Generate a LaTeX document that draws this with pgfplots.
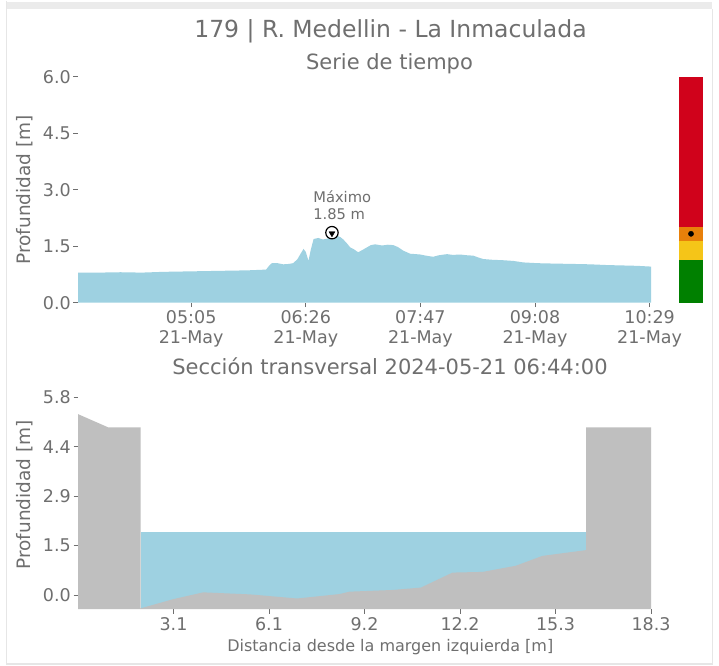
\documentclass[border=0pt]{standalone}
\usepackage{fontspec}
\setmainfont{DejaVu Sans}
\usepackage{pgfplots}
\pgfplotsset{compat=1.18}
\definecolor{water}{HTML}{9ED1E1}
\definecolor{terrain}{HTML}{BFBFBF}
\definecolor{txt}{HTML}{6F6F6F}
\definecolor{rd}{HTML}{D0021B}
\definecolor{org}{HTML}{E8800A}
\definecolor{yel}{HTML}{F5C518}
\definecolor{grn}{HTML}{008000}
\definecolor{band}{HTML}{EBEBEB}
\definecolor{border}{HTML}{E6E6E6}
\pgfplotsset{
  base/.style={scale only axis, enlargelimits=false, axis lines=left,
    axis line style={draw=none,-}, tick style={txt, line width=0.8pt},
    tick align=outside, major tick length=4.5pt,
    ticklabel style={font=\fontsize{17.5}{20}\selectfont, text=txt},
    yticklabel style={inner sep=2.5pt},
    label style={text=txt}}
}
\begin{document}
\begin{tikzpicture}
\fill[white] (0pt,0pt) rectangle (719pt,665pt);
\fill[band] (7pt,657pt) rectangle (712pt,664pt);
\draw[border, line width=1.5pt] (6.5pt,665pt) -- (6.5pt,2pt) -- (712.5pt,2pt) -- (712.5pt,657pt);
\node[text=txt, font=\fontsize{23.5}{26}\selectfont, anchor=base] at (390.5pt,628pt) {179 | R. Medellin - La Inmaculada};
\node[text=txt, font=\fontsize{21}{24}\selectfont, anchor=base] at (389.5pt,596pt) {Serie de tiempo};
\node[text=txt, font=\fontsize{21}{24}\selectfont, anchor=base] at (390pt,291pt) {Sección transversal 2024-05-21 06:44:00};

% time series
\begin{axis}[base, at={(78pt,363pt)}, anchor=south west, width=573pt, height=226pt,
  xmin=225, xmax=630, ymin=0, ymax=6,
  xtick={305,386,467,548,629},
  xticklabels={{05:05\\21-May},{06:26\\21-May},{07:47\\21-May},{09:08\\21-May},{10:29\\21-May}},
  xticklabel style={align=center},
  ytick={0,1.5,3,4.5,6}, yticklabels={0.0,1.5,3.0,4.5,6.0},
  ylabel={Profundidad [m]},
  ylabel style={font=\fontsize{18.5}{20}\selectfont, at={(axis description cs:-0.0925,0.5)}, anchor=center}]
\addplot[fill=water, draw=none] coordinates {
(225,0.80)(240,0.80)(255,0.81)(270,0.80)(285,0.82)(300,0.83)(315,0.84)(330,0.85)(345,0.86)(358,0.88)
(360,0.98)(362,1.05)(366,1.05)(370,1.02)(374,1.03)(377,1.05)(380,1.15)(382,1.28)(384.4,1.43)(386,1.35)
(387.9,1.11)(389.5,1.40)(391.5,1.69)(394.8,1.72)(398,1.68)(401.1,1.70)(404.5,1.75)(408,1.78)(410.5,1.74)
(412.5,1.68)(415,1.58)(417.4,1.47)(420,1.42)(423,1.34)(426,1.40)(429.2,1.47)(432,1.53)(435.1,1.55)
(440,1.52)(444,1.54)(447.8,1.53)(451,1.48)(455,1.38)(459.9,1.30)(464,1.29)(467,1.28)(471,1.25)(476,1.22)
(480,1.26)(485.8,1.29)(490,1.27)(495,1.28)(500,1.26)(504.4,1.25)(508,1.20)(511.5,1.16)(518,1.14)
(525,1.13)(532.7,1.11)(539.8,1.07)(550,1.05)(561,1.04)(575,1.03)(587,1.02)(599.2,1.00)(610,0.99)
(620,0.98)(630,0.96)} \closedcycle;
\addplot[only marks, mark=*, mark size=6.2pt, mark options={fill=white, draw=black, line width=1.2pt}] coordinates {(404.5,1.86)};
\addplot[only marks, mark=triangle*, mark size=3.4pt, mark options={fill=black, draw=black, rotate=180}] coordinates {(404.5,1.84)};
\node[anchor=south west, align=left, inner sep=0pt, text=txt, font=\fontsize{14.7}{17}\selectfont] at (axis cs:391.2,2.2) {Máximo\\1.85 m};
\end{axis}

% colour bar
\begin{axis}[at={(679pt,363pt)}, anchor=south west, scale only axis, width=24pt, height=226pt,
  xmin=0, xmax=1, ymin=0, ymax=6, hide axis]
\addplot[fill=grn, draw=none] coordinates {(0,0)(1,0)(1,1.14)(0,1.14)} -- cycle;
\addplot[fill=yel, draw=none] coordinates {(0,1.14)(1,1.14)(1,1.65)(0,1.65)} -- cycle;
\addplot[fill=org, draw=none] coordinates {(0,1.65)(1,1.65)(1,2.02)(0,2.02)} -- cycle;
\addplot[fill=rd, draw=none] coordinates {(0,2.02)(1,2.02)(1,6)(0,6)} -- cycle;
\addplot[only marks, mark=*, mark size=2.6pt, black] coordinates {(0.5,1.83)};
\end{axis}

% cross section
\begin{axis}[base, at={(78pt,56.7pt)}, anchor=south west, width=573pt, height=211.6pt,
  xmin=0, xmax=18.3, ymin=-0.41, ymax=5.8,
  xtick={3.05,6.1,9.15,12.2,15.25,18.3}, xticklabels={3.1,6.1,9.2,12.2,15.3,18.3},
  ytick={0,1.45,2.9,4.35,5.8}, yticklabels={0.0,1.5,2.9,4.4,5.8},
  ylabel={Profundidad [m]},
  ylabel style={font=\fontsize{18.5}{20}\selectfont, at={(axis description cs:-0.0925,0.54)}, anchor=center},
  xlabel={Distancia desde la margen izquierda [m]},
  xlabel style={font=\fontsize{16}{18}\selectfont, at={(axis description cs:0.545,-0.18)}, anchor=center}]
\addplot[fill=water, draw=none] coordinates {(2.0,-0.41)(16.23,-0.41)(16.23,1.84)(2.0,1.84)} -- cycle;
\addplot[fill=terrain, draw=none] coordinates {
(0,-0.41)(0,5.31)(0.97,4.92)(2.0,4.92)(2.0,-0.39)(3.04,-0.12)(4.0,0.08)(5.5,0.02)(7.0,-0.1)
(8.35,0.03)(8.67,0.1)(10.05,0.15)(10.95,0.22)(11.96,0.66)(12.92,0.68)(13.98,0.86)(14.83,1.15)
(16.23,1.32)(16.23,4.92)(18.3,4.92)(18.3,-0.41)} -- cycle;
\end{axis}
\end{tikzpicture}
\end{document}
